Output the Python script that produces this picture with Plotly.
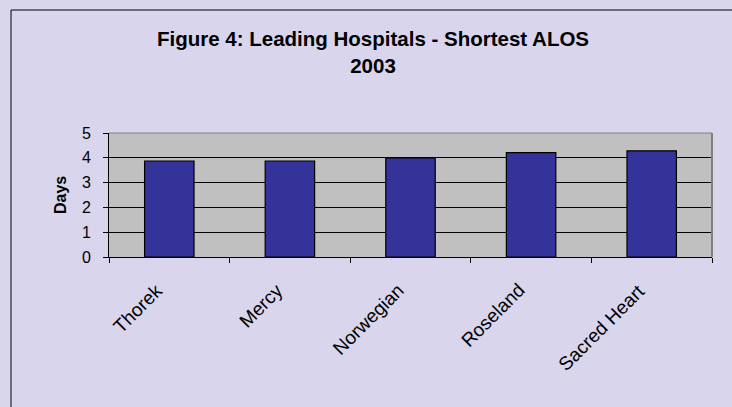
import plotly.graph_objects as go

hospitals = ["Thorek", "Mercy", "Norwegian", "Roseland", "Sacred Heart"]
alos_days = [3.87, 3.87, 4.0, 4.21, 4.28]
y_ticks = [0, 1, 2, 3, 4, 5]

W, H = 732, 407
L, R, T, B = 109, 20, 133, 150
pw = W - L - R
ph = H - T - B

def px_x(p):
    return (p - L) / pw

def px_y(p):
    return (H - B - p) / ph

FONT = "Arial, Liberation Sans, sans-serif"

fig = go.Figure(
    go.Bar(
        x=hospitals,
        y=alos_days,
        marker=dict(color="#333399", line=dict(color="#000000", width=1.2)),
        width=0.41,
    )
)

# rotated category labels placed on the category axis scale
label_annotations = [
    dict(text=name, x=name, xref="x", y=0, yref="paper",
         textangle=-45, xanchor="right", yanchor="top",
         xshift=0, yshift=-20, showarrow=False,
         font=dict(size=19, family=FONT, color="#000000"))
    for name in hospitals
]

fig.update_layout(
    width=W,
    height=H,
    margin=dict(l=L, r=R, t=T, b=B, pad=0),
    paper_bgcolor="#D8D5EC",
    plot_bgcolor="#C0C0C0",
    showlegend=False,
    font=dict(family=FONT, color="#000000"),
    title=dict(
        text="Figure 4: Leading Hospitals - Shortest ALOS<br>2003",
        x=px_x(373), xref="paper", xanchor="center",
        y=1 - 46 / H, yref="container", yanchor="top",
        font=dict(family=FONT, size=20.5, color="#000000", weight="bold"),
    ),
    xaxis=dict(
        type="category",
        range=[-0.5, len(hospitals) - 0.5],
        autorange=False,
        showgrid=False,
        ticks="outside",
        tickson="boundaries",
        ticklen=5,
        tickcolor="#000000",
        showticklabels=False,
        showline=True,
        linecolor="#000000",
        linewidth=1,
        mirror=False,
    ),
    yaxis=dict(
        range=[0, 5],
        tickvals=y_ticks,
        ticks="outside",
        ticklen=5,
        tickcolor="#000000",
        showgrid=True,
        gridcolor="#000000",
        gridwidth=1,
        zeroline=False,
        showline=True,
        linecolor="#000000",
        linewidth=1,
        tickfont=dict(size=16, family=FONT),
        ticklabelstandoff=9,
    ),
    annotations=[
        dict(text="<b>Days</b>", textangle=-90, xref="paper", yref="paper",
             x=px_x(60), y=px_y(195), xanchor="center", yanchor="middle",
             showarrow=False, font=dict(size=16, family=FONT, color="#000000")),
    ] + label_annotations,
    shapes=[
        dict(type="line", xref="paper", yref="paper", x0=1, x1=1, y0=0, y1=1,
             line=dict(color="#808080", width=2)),
        dict(type="line", xref="paper", yref="paper", x0=0, x1=1, y0=1, y1=1,
             line=dict(color="#808080", width=1)),
        dict(type="rect", xref="paper", yref="paper",
             x0=px_x(11), x1=px_x(800), y0=px_y(10), y1=px_y(470),
             line=dict(color="#000000", width=1), layer="above"),
    ],
)

fig.write_html("out.html", config={"displayModeBar": False},
               post_script="document.body.style.margin='0';document.body.style.overflow='hidden';")
